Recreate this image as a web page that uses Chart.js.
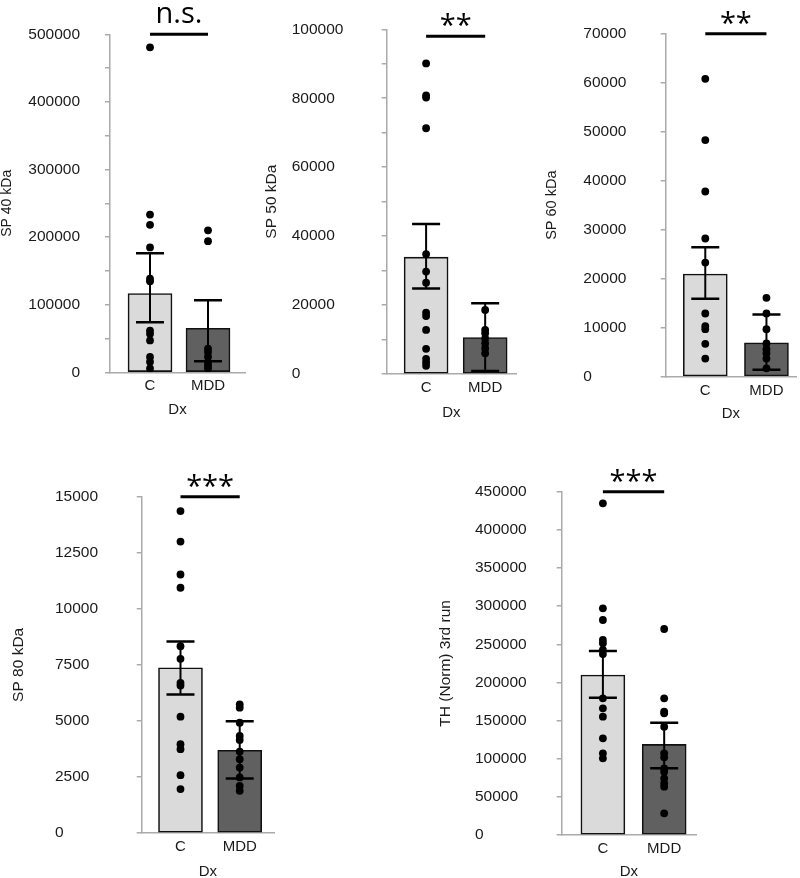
<!DOCTYPE html>
<html>
<head>
<meta charset="utf-8">
<script src="https://cdn.jsdelivr.net/npm/chart.js@4.4.0/dist/chart.umd.min.js"></script>
<style>
    html, body { margin: 0; padding: 0; background: #fff; overflow: hidden; }
    #wrap { position: relative; width: 800px; height: 878px; }
    canvas { position: absolute; }
</style>
</head>
<body>
<div id="wrap">
    <canvas id="p0"></canvas>
    <canvas id="p1"></canvas>
    <canvas id="p2"></canvas>
    <canvas id="p3"></canvas>
    <canvas id="p4"></canvas>
</div>
<script>

// Groups (x axis)
var groups = ['C', 'MDD'];

// SP 40 kDa
var sp40_mean = [116600, 65100];
var sp40_lo = [73900, 16500];
var sp40_hi = [176000, 106400];
var sp40_c = [480700, 233300, 218200, 184700, 138500, 134600, 61700, 56900, 47100, 22800, 15500, 5800];
var sp40_mdd = [210000, 194000, 35000, 30000, 23000, 15000, 10000, 6000];

// SP 50 kDa
var sp50_mean = [33900, 10600];
var sp50_lo = [24800, 900];
var sp50_hi = [43500, 20500];
var sp50_c = [90100, 80800, 80200, 71300, 34800, 29700, 26500, 17800, 16800, 12800, 7300, 4400, 3400, 2400];
var sp50_mdd = [18600, 12800, 11800, 10300, 8900, 7400, 6000];

// SP 60 kDa
var sp60_mean = [20950, 6900];
var sp60_lo = [15900, 1400];
var sp60_hi = [26400, 12700];
var sp60_c = [60800, 48300, 37800, 28200, 23300, 12900, 10300, 9700, 6700, 3700];
var sp60_mdd = [16100, 12900, 9700, 6800, 5600, 4800, 3700, 1700];

// SP 80 kDa
var sp80_mean = [7370, 3690];
var sp80_lo = [6180, 2430];
var sp80_hi = [8540, 4980];
var sp80_c = [14360, 13000, 11530, 10940, 8330, 7770, 6700, 6580, 5190, 3960, 3740, 2580, 1960];
var sp80_mdd = [5740, 5590, 4920, 4330, 4150, 3630, 3290, 2920, 2480, 2100, 1880];

// TH (Norm) 3rd run
var th_mean = [209700, 118800];
var th_lo = [180000, 87400];
var th_hi = [241200, 147200];
var th_c = [434700, 297100, 281800, 255600, 251200, 242500, 237200, 179100, 166000, 155100, 126700, 107000, 100500];
var th_mdd = [270000, 179100, 161600, 159500, 142000, 107000, 101800, 87400, 83000, 74300, 67700, 63300, 28400];

// Axis titles, ticks and significance marks
var y_titles = ['SP 40 kDa', 'SP 50 kDa', 'SP 60 kDa', 'SP 80 kDa', 'TH (Norm) 3rd run'];
var y_max = [500000, 100000, 70000, 15000, 450000];
var y_major = [100000, 20000, 10000, 2500, 50000];
var y_minor = [50000, 10000, 10000, 2500, 50000];
var sig_text = ['n.s.', '**', '**', '***', '***'];
var sig_level = [500000, 98000, 70000, 15000, 450000];

var means = [sp40_mean, sp50_mean, sp60_mean, sp80_mean, th_mean];
var lows = [sp40_lo, sp50_lo, sp60_lo, sp80_lo, th_lo];
var highs = [sp40_hi, sp50_hi, sp60_hi, sp80_hi, th_hi];
var c_points = [sp40_c, sp50_c, sp60_c, sp80_c, th_c];
var mdd_points = [sp40_mdd, sp50_mdd, sp60_mdd, sp80_mdd, th_mdd];

// Where each panel sits on the page
var layout = [
    { left: 0,   top: 0,   w: 250, h: 430, padL: 0,    padT: 29.3, padR: 5,  yW: 110,  xH: 57.7, align: 'near', tickPad: 25, titleSize: 14,   titlePad: -0.9,  dxPad: 11, xMin: 0.310, xMax: 2.638, gap: 11 },
    { left: 250, top: 0,   w: 270, h: 430, padL: 41.7, padT: 29.3, padR: 2,  yW: 95,   xH: 56,   align: 'far',  tickPad: 0,  titleSize: 15.5, titlePad: -29.7, dxPad: 8,  xMin: 0.333, xMax: 2.522, gap: 1 },
    { left: 520, top: 0,   w: 280, h: 430, padL: 63.3, padT: 33.7, padR: 2,  yW: 82.4, xH: 53.3, align: 'far',  tickPad: 0,  titleSize: 14.5, titlePad: -40.3, dxPad: 7,  xMin: 0.353, xMax: 2.483, gap: 1 },
    { left: 0,   top: 440, w: 290, h: 445, padL: 55,   padT: 56.7, padR: 16, yW: 86.7, xH: 52,   align: 'far',  tickPad: 0,  titleSize: 15.5, titlePad: -46,   dxPad: 4,  xMin: 0.345, xMax: 2.579, gap: 1 },
    { left: 420, top: 440, w: 300, h: 445, padL: 55,   padT: 51.7, padR: 24, yW: 86.7, xH: 50,   align: 'far',  tickPad: 0,  titleSize: 15.5, titlePad: -38.5, dxPad: 4,  xMin: 0.328, xMax: 2.519, gap: 1 }
];

Chart.defaults.font.family = '"Liberation Sans", Arial, sans-serif';
Chart.defaults.color = '#1a1a1a';

// Error bars and the significance bracket
var extras = {
    id: 'extras',
    afterDatasetsDraw: function( chart, args, opts ){

        var ctx = chart.ctx;
        var xs = chart.scales.x;
        var ys = chart.scales.y;

        ctx.save();
        ctx.strokeStyle = '#000';

        for( var i = 0; i < opts.lo.length; i++ ){
            var px = xs.getPixelForValue( i + 1 );
            var top = ys.getPixelForValue( opts.hi[i] );
            var bot = ys.getPixelForValue( opts.lo[i] );
            ctx.lineWidth = 2;
            ctx.beginPath();
            ctx.moveTo( px, top );
            ctx.lineTo( px, bot );
            ctx.stroke();
            ctx.lineWidth = 2.5;
            ctx.beginPath();
            ctx.moveTo( px - 14, top ); ctx.lineTo( px + 14, top );
            ctx.moveTo( px - 14, bot ); ctx.lineTo( px + 14, bot );
            ctx.stroke();
        }

        var sy = ys.getPixelForValue( opts.level );
        var x1 = xs.getPixelForValue( 1 );
        var x2 = xs.getPixelForValue( 2 );
        ctx.lineWidth = 3;
        ctx.beginPath();
        ctx.moveTo( x1, sy );
        ctx.lineTo( x2, sy );
        ctx.stroke();

        ctx.fillStyle = '#000';
        ctx.font = '29px "Open Sans", sans-serif';
        ctx.textAlign = 'center';
        ctx.textBaseline = 'alphabetic';
        ctx.fillText( opts.text, ( x1 + x2 ) / 2, sy - opts.gap );
        ctx.restore();
    }
};

function to_xy( values, x ){
    return values.map( function( v ){ return { x: x, y: v }; } );
}

function draw_panel( k ){

    var L = layout[k];
    var canvas = document.getElementById( 'p' + k );
    canvas.width = L.w;
    canvas.height = L.h;
    canvas.style.left = L.left + 'px';
    canvas.style.top = L.top + 'px';

    var major = y_major[k];

    new Chart( canvas.getContext('2d'), {
        type: 'bar',
        data: {
            datasets: [
                {
                    type: 'scatter',
                    data: to_xy( c_points[k], 1 ).concat( to_xy( mdd_points[k], 2 ) ),
                    backgroundColor: '#000',
                    borderWidth: 0,
                    pointRadius: 3.9,
                    order: 0
                },
                {
                    type: 'bar',
                    data: means[k].map( function( v, i ){ return { x: i + 1, y: v }; } ),
                    backgroundColor: ['#dadada', '#606060'],
                    borderColor: '#111',
                    borderWidth: 1.6,
                    borderSkipped: false,
                    barThickness: 44,
                    order: 1
                }
            ]
        },
        options: {
            responsive: false,
            animation: false,
            events: [],
            layout: { padding: { left: L.padL, top: L.padT, right: L.padR, bottom: 0 } },
            plugins: {
                legend: { display: false },
                tooltip: { enabled: false },
                extras: { lo: lows[k], hi: highs[k], level: sig_level[k], text: sig_text[k], gap: L.gap }
            },
            scales: {
                x: {
                    type: 'linear',
                    min: L.xMin,
                    max: L.xMax,
                    offset: false,
                    afterBuildTicks: function( s ){
                        s.ticks = groups.map( function( g, i ){ return { value: i + 1 }; } );
                    },
                    afterFit: function( s ){ s.height = L.xH; },
                    ticks: {
                        autoSkip: false,
                        maxRotation: 0,
                        padding: 5,
                        font: { size: 15 },
                        callback: function( v ){ return groups[v - 1]; }
                    },
                    grid: { display: false, drawTicks: false, offset: false },
                    border: { color: '#aaaaaa', width: 1.5 },
                    title: {
                        display: true,
                        text: 'Dx',
                        font: { size: 15 },
                        padding: { top: 0, bottom: L.dxPad }
                    }
                },
                y: {
                    min: 0,
                    max: y_max[k],
                    afterFit: function( s ){ s.width = L.yW; },
                    ticks: {
                        stepSize: y_minor[k],
                        autoSkip: false,
                        crossAlign: L.align,
                        padding: L.tickPad,
                        font: { size: 15.5 },
                        callback: function( v ){ return v % major === 0 ? String( v ) : ''; }
                    },
                    grid: { drawOnChartArea: false, drawTicks: true, tickLength: 5, color: '#aaaaaa', lineWidth: 1.5 },
                    border: { color: '#aaaaaa', width: 1.5 },
                    title: {
                        display: true,
                        text: y_titles[k],
                        font: { size: L.titleSize },
                        padding: { top: L.titlePad, bottom: 0 }
                    }
                }
            }
        },
        plugins: [ extras ]
    });

}

for( var k = 0; k < 5; k++ ){
    draw_panel( k );
}

</script>
</body>
</html>
